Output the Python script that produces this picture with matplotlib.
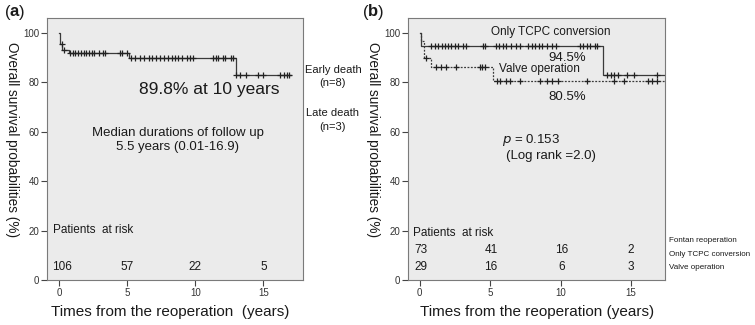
import matplotlib
matplotlib.use('Agg')
import matplotlib.pyplot as plt
import numpy as np

plt.rcParams['font.family'] = ['Liberation Sans', 'DejaVu Sans']

# panel (a): whole cohort
a_step_t = [0, 0.05, 0.25, 0.75, 5.15, 12.95]
a_step_s = [100, 95.5, 93.2, 91.8, 89.8, 83.0]
a_end = 17.0
a_censor = [0.2, 0.4, 0.8, 1.0, 1.2, 1.4, 1.6, 1.8, 2.0, 2.2, 2.4, 2.6, 2.9, 3.2, 3.4,
            4.5, 4.65, 5.0, 5.3, 5.6, 5.95, 6.2, 6.6, 6.8, 7.1, 7.4, 7.7, 8.0, 8.3,
            8.5, 8.75, 9.0, 9.4, 9.6, 9.85, 11.3, 11.5, 11.7, 12.0, 12.2, 12.6,
            12.75, 13.0, 13.3, 13.7, 14.6, 15.0, 16.25, 16.5, 16.7, 16.9]
a_risk_t = [0.25, 5, 10, 15]
a_risk = ['106', '57', '22', '5']

# panel (b): TCPC only vs valve operation
tcpc_step_t = [0, 0.1, 13.0]
tcpc_step_s = [100, 94.5, 83.0]
valve_step_t = [0, 0.08, 0.3, 0.8, 5.2]
valve_step_s = [100, 96.5, 89.7, 86.2, 80.5]
b_end = 17.4
tcpc_censor = [0.8, 1.05, 1.3, 1.55, 1.8, 2.0, 2.25, 2.5, 2.75, 3.05, 3.3, 4.5, 4.6,
               5.4, 5.65, 5.9, 6.1, 6.5, 6.8, 7.1, 7.7, 7.95, 8.2, 8.45, 8.7, 9.05,
               9.35, 9.65, 11.4, 11.6, 11.85, 12.1, 12.4, 12.6,
               13.3, 13.6, 13.8, 14.1, 14.7, 15.2, 16.8]
valve_censor = [0.46, 1.15, 1.5, 1.9, 2.6, 4.25, 4.4, 4.6,
                5.5, 5.7, 6.1, 6.4, 7.1, 8.5, 9.0, 9.4, 9.8, 11.9, 13.8, 14.5,
                16.2, 16.5, 16.8]
b_risk_t = [0.1, 5.05, 10.1, 14.95]
tcpc_risk = ['73', '41', '16', '2']
valve_risk = ['29', '16', '6', '3']

LINE = '#3a3a3a'
BG = '#ebebeb'
TXT = '#1a1a1a'


def level_at(step_t, step_s, t):
    idx = np.searchsorted(step_t, t, side='right') - 1
    return np.array(step_s)[idx]


def km(ax, step_t, step_s, end, censor, ls='-'):
    xs = list(step_t) + [end]
    ys = list(step_s) + [step_s[-1]]
    ax.step(xs, ys, where='post', color=LINE, lw=0.9, ls=ls)
    ax.plot(censor, level_at(step_t, step_s, censor), ls='none', marker='+',
            ms=4.5, mew=0.9, color='#222222')


def style(ax, xlim):
    ax.set_facecolor(BG)
    ax.set_xlim(*xlim)
    ax.set_ylim(0, 106)
    ax.set_xticks([0, 5, 10, 15])
    ax.set_yticks([0, 20, 40, 60, 80, 100])
    for s in ax.spines.values():
        s.set_color('#7a7a7a')
        s.set_linewidth(0.8)
    ax.tick_params(length=4, width=0.8, color='#444444', labelsize=7,
                   labelcolor='#333333', pad=1.5)


fig = plt.figure(figsize=(7.55, 3.25), dpi=100)
axa = fig.add_axes([0.0623, 0.1385, 0.339, 0.8061])
axb = fig.add_axes([0.5404, 0.1385, 0.3404, 0.8061])

# ---- panel a
style(axa, (-0.88, 17.9))
km(axa, a_step_t, a_step_s, a_end, a_censor)
axa.text(11.0, 77, '89.8% at 10 years', ha='center', va='center', fontsize=12.5, color=TXT)
axa.text(8.7, 59.5, 'Median durations of follow up', ha='center', va='center', fontsize=9.5, color=TXT)
axa.text(8.7, 53.8, '5.5 years (0.01-16.9)', ha='center', va='center', fontsize=9.5, color=TXT)
axa.text(-0.45, 20.2, 'Patients  at risk', ha='left', va='center', fontsize=8.5, color=TXT)
for t, n in zip(a_risk_t, a_risk):
    axa.text(t, 5.3, n, ha='center', va='center', fontsize=8.5, color=TXT)

# ---- panel b
style(axb, (-0.83, 17.4))
km(axb, tcpc_step_t, tcpc_step_s, b_end, tcpc_censor)
km(axb, valve_step_t, valve_step_s, b_end, valve_censor, ls=(0, (1.5, 1.2)))
axb.text(9.3, 100.5, 'Only TCPC conversion', ha='center', va='center', fontsize=8.5, color=TXT)
axb.text(10.45, 90, '94.5%', ha='center', va='center', fontsize=9.5, color=TXT)
axb.text(5.6, 85.2, 'Valve operation', ha='left', va='center', fontsize=8.5, color=TXT)
axb.text(10.45, 74, '80.5%', ha='center', va='center', fontsize=9.5, color=TXT)
axb.text(5.85, 56.7, r'$\it{p}$ = 0.153', ha='left', va='center', fontsize=9.5, color=TXT)
axb.text(6.1, 50, '(Log rank =2.0)', ha='left', va='center', fontsize=9.5, color=TXT)
axb.text(-0.45, 19, 'Patients  at risk', ha='left', va='center', fontsize=8.5, color=TXT)
for t, n1, n2 in zip(b_risk_t, tcpc_risk, valve_risk):
    axb.text(t, 12, n1, ha='center', va='center', fontsize=8.5, color=TXT)
    axb.text(t, 5.4, n2, ha='center', va='center', fontsize=8.5, color=TXT)

# labels
for x in (12 / 755, 373 / 755):
    fig.text(x, 0.572, 'Overall survival probabilities (%)', rotation=270,
             ha='center', va='center', fontsize=9.8, color=TXT)
fig.text(170 / 755, 1 - 312 / 325, 'Times from the reoperation  (years)',
         ha='center', va='center', fontsize=11, color=TXT)
fig.text(537 / 755, 1 - 312 / 325, 'Times from the reoperation (years)',
         ha='center', va='center', fontsize=11, color=TXT)

fig.text(5 / 755, 1 - 12 / 325, '(', ha='left', va='center', fontsize=12, color=TXT)
fig.text(10 / 755, 1 - 12 / 325, 'a', ha='left', va='center', fontsize=12, weight='bold', color=TXT)
fig.text(19 / 755, 1 - 12 / 325, ')', ha='left', va='center', fontsize=12, color=TXT)
fig.text(363 / 755, 1 - 12 / 325, '(', ha='left', va='center', fontsize=12, color=TXT)
fig.text(368 / 755, 1 - 12 / 325, 'b', ha='left', va='center', fontsize=12, weight='bold', color=TXT)
fig.text(378 / 755, 1 - 12 / 325, ')', ha='left', va='center', fontsize=12, color=TXT)

# death counts beside panel a
for y, s in [(70, 'Early death'), (83, '(n=8)'), (113, 'Late death'), (127, '(n=3)')]:
    fig.text(333 / 755, 1 - y / 325, s, ha='center', va='center', fontsize=8, color=TXT)

# row labels beside panel b
for y, s in [(240, 'Fontan reoperation'), (254, 'Only TCPC conversion'), (267.7, 'Valve operation')]:
    fig.text(669 / 755, 1 - y / 325, s, ha='left', va='center', fontsize=5.8, color=TXT)

fig.savefig('out.png', dpi=100)
